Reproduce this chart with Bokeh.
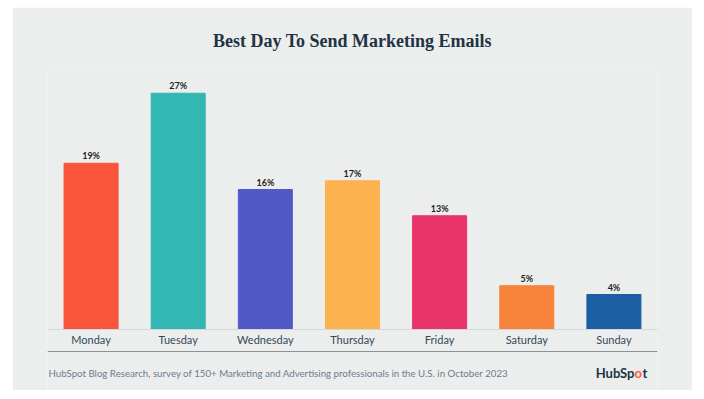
from bokeh.plotting import figure
from bokeh.models import ColumnDataSource, Label, Range1d, Span
from bokeh.embed import file_html
from bokeh.resources import INLINE
from bokeh.core.properties import value

days = ["Monday", "Tuesday", "Wednesday", "Thursday", "Friday", "Saturday", "Sunday"]
shares = [19, 27, 16, 17, 13, 5, 4]
share_labels = ["19%", "27%", "16%", "17%", "13%", "5%", "4%"]
colors = ["#f8553a", "#33b7b3", "#5159c9", "#fbb24f", "#e9346a", "#f7833b", "#1b5ea2"]

title_text = "Best Day To Send Marketing Emails"
footer_text = "HubSpot Blog Research, survey of 150+ Marketing and Advertising professionals in the U.S. in October 2023"

BG = "#eceeee"
PX_PER_UNIT = 8.75

src = ColumnDataSource(dict(day=days, share=shares, label=share_labels, color=colors,
                            base=[0] * len(days)))

p = figure(x_range=days, y_range=Range1d(-61 / PX_PER_UNIT, 259 / PX_PER_UNIT),
           width=680, height=383,
           output_backend="svg", toolbar_location=None,
           min_border_left=35, min_border_right=35, min_border_top=63, min_border_bottom=0)
p.margin = (7, 0, 0, 12)
p.background_fill_color = BG
p.border_fill_color = BG
p.outline_line_color = None
p.grid.grid_line_color = None
p.xaxis.visible = False
p.yaxis.visible = False

p.title.text = title_text
p.title.align = "center"
p.title.text_font = "Liberation Serif"
p.title.text_font_size = "18px"
p.title.text_font_style = "bold"
p.title.text_color = "#213343"
p.title.standoff = 39

# baseline and footer separator
p.add_layout(Span(location=0, dimension="width", line_color="#d3d8da", line_width=1))
p.add_layout(Span(location=39, location_units="screen", dimension="width",
                  line_color="#8a9196", line_width=1.2))

p.vbar(x="day", top="share", width=0.62, color="color", source=src)
p.text(x="day", y="share", text="label", source=src, text_align="center",
       text_baseline="bottom", y_offset=-2, text_font=value("Lato"),
       text_font_size="9px", text_font_style="bold", text_color="#1e1e1e")
# category labels
p.text(x="day", y="base", text="day", source=src, text_align="center",
       text_baseline="middle", y_offset=10, text_font=value("Lato"),
       text_font_size="11px", text_color="#33475b")

p.add_layout(Label(x=1, y=18, x_units="screen", y_units="screen", text=footer_text,
                   text_font="Lato", text_font_size="9.7px", text_color="#6b7c8c",
                   text_baseline="middle"))
p.add_layout(Label(x=587, y=18, x_units="screen", y_units="screen", text="HubSp",
                   text_font="Lato", text_font_size="13px", text_font_style="bold",
                   text_color="#213343", text_baseline="middle", text_align="right"))
p.add_layout(Label(x=587, y=18, x_units="screen", y_units="screen", text="o",
                   text_font="Lato", text_font_size="13px", text_font_style="bold",
                   text_color="#ff5c35", text_baseline="middle"))
p.add_layout(Label(x=595, y=18, x_units="screen", y_units="screen", text="t",
                   text_font="Lato", text_font_size="13px", text_font_style="bold",
                   text_color="#213343", text_baseline="middle"))

open("out.html", "w").write(file_html(p, INLINE))
